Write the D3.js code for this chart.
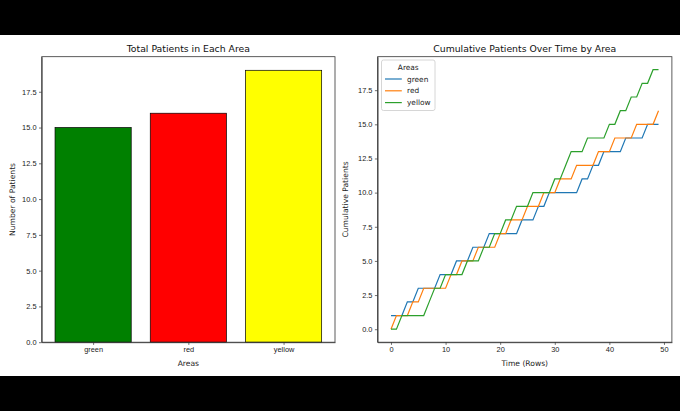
<!DOCTYPE html>
<html>
<head>
<meta charset="utf-8">
<script src="https://cdn.jsdelivr.net/npm/d3@7"></script>
<style>
  body { margin: 0; background: #000; }
  svg { display: block; font-family: "DejaVu Sans", sans-serif; }
  .tick text { font-size: 7.4px; fill: #222; }
  .tick line { stroke: #333; stroke-width: 0.7; }
  .domain { stroke: #333; stroke-width: 0.8; }
</style>
</head>
<body>
<div id="chart"></div>
<script>
const width = 680
const height = 411

// Datos
const areas = ["green", "red", "yellow"]
const totals = [15, 16, 19]
const barColors = ["#008000", "#ff0000", "#ffff00"]
const lineColors = ["#1f77b4", "#ff7f0e", "#2ca02c"]
const yTicks = [0, 2.5, 5, 7.5, 10, 12.5, 15, 17.5]
const xTicks = [0, 10, 20, 30, 40, 50]
// area of each row (0..49)
const rowAreas = [
  "green", "red", "yellow", "green", "red", "green", "red", "yellow", "yellow", "green",
  "yellow", "red", "green", "red", "yellow", "green", "red", "yellow", "green", "yellow",
  "red", "yellow", "red", "yellow", "green", "red", "yellow", "green", "red", "green",
  "yellow", "red", "yellow", "yellow", "red", "green", "yellow", "green", "red", "green",
  "yellow", "red", "yellow", "green", "yellow", "red", "yellow", "green", "yellow", "red"
]

const svg = d3.select("#chart")
  .append("svg")
  .attr("width", width)
  .attr("height", height)

// franjas negras arriba y abajo, fondo blanco en medio
svg.append("rect").attr("x", 0).attr("y", 35).attr("width", width).attr("height", 341).attr("fill", "#fff")

const plotTop = 56.7, plotBottom = 342.2

// ---------- Grafico de barras ----------
const b = { left: 41.7, right: 335 }
const xb = d3.scaleLinear().domain([-0.54, 2.54]).range([b.left, b.right])
const yb = d3.scaleLinear().domain([0, 19.95]).range([plotBottom, plotTop])

const barGroup = svg.append("g")
barGroup.selectAll("rect")
  .data(totals)
  .enter().append("rect")
    .attr("x", (d, i) => xb(i - 0.4))
    .attr("width", xb(0.8) - xb(0))
    .attr("y", d => yb(d))
    .attr("height", d => yb(0) - yb(d))
    .attr("fill", (d, i) => barColors[i])
    .attr("stroke", "#000")
    .attr("stroke-width", 0.7)

svg.append("g")
  .attr("transform", `translate(${b.left},0)`)
  .call(d3.axisLeft(yb).tickValues(yTicks).tickFormat(d3.format(".1f")).tickSize(2.7).tickSizeOuter(0).tickPadding(2.5))
svg.append("g")
  .attr("transform", `translate(0,${plotBottom})`)
  .call(d3.axisBottom(xb).tickValues([0, 1, 2]).tickFormat((d, i) => areas[i]).tickSize(2.7).tickSizeOuter(0).tickPadding(2))
// marco
svg.append("rect").attr("x", b.left).attr("y", plotTop).attr("width", b.right - b.left).attr("height", plotBottom - plotTop)
  .attr("fill", "none").attr("stroke", "#333").attr("stroke-width", 0.8)

svg.append("text").attr("x", (b.left + b.right) / 2).attr("y", 51.5)
  .attr("text-anchor", "middle").attr("font-size", 9.3).attr("fill", "#111").text("Total Patients in Each Area")
svg.append("text").attr("x", (b.left + b.right) / 2).attr("y", 365.5)
  .attr("text-anchor", "middle").attr("font-size", 7.6).attr("fill", "#222").text("Areas")
svg.append("text").attr("transform", `translate(14.5,${(plotTop + plotBottom) / 2}) rotate(-90)`)
  .attr("text-anchor", "middle").attr("font-size", 7.6).attr("fill", "#222").text("Number of Patients")

// ---------- Lineas acumuladas ----------
const l = { left: 377.6, right: 671.9 }
const xl = d3.scaleLinear().domain([-2.45, 51.45]).range([l.left, l.right])
const yl = d3.scaleLinear().domain([-0.95, 19.95]).range([plotBottom, plotTop])

const series = areas.map(a => {
  let c = 0
  return rowAreas.map((r, i) => ({ t: i, v: (c += r === a ? 1 : 0) }))
})

const line = d3.line().x(d => xl(d.t)).y(d => yl(d.v))
svg.append("g").selectAll("path")
  .data(series)
  .enter().append("path")
    .attr("fill", "none")
    .attr("stroke", (d, i) => lineColors[i])
    .attr("stroke-width", 1.2)
    .attr("d", line)

svg.append("g")
  .attr("transform", `translate(${l.left},0)`)
  .call(d3.axisLeft(yl).tickValues(yTicks).tickFormat(d3.format(".1f")).tickSize(2.7).tickSizeOuter(0).tickPadding(2.5))
svg.append("g")
  .attr("transform", `translate(0,${plotBottom})`)
  .call(d3.axisBottom(xl).tickValues(xTicks).tickSize(2.7).tickSizeOuter(0).tickPadding(2))
svg.append("rect").attr("x", l.left).attr("y", plotTop).attr("width", l.right - l.left).attr("height", plotBottom - plotTop)
  .attr("fill", "none").attr("stroke", "#333").attr("stroke-width", 0.8)

svg.append("text").attr("x", (l.left + l.right) / 2).attr("y", 51.5)
  .attr("text-anchor", "middle").attr("font-size", 9.3).attr("fill", "#111").text("Cumulative Patients Over Time by Area")
svg.append("text").attr("x", (l.left + l.right) / 2).attr("y", 365.5)
  .attr("text-anchor", "middle").attr("font-size", 7.6).attr("fill", "#222").text("Time (Rows)")
svg.append("text").attr("transform", `translate(348,${(plotTop + plotBottom) / 2}) rotate(-90)`)
  .attr("text-anchor", "middle").attr("font-size", 7.6).attr("fill", "#222").text("Cumulative Patients")

// Leyenda
const legend = svg.append("g").attr("transform", `translate(381.5,60)`)
legend.append("rect").attr("width", 53.5).attr("height", 50.5).attr("rx", 2)
  .attr("fill", "#fff").attr("fill-opacity", 0.8).attr("stroke", "#ccc").attr("stroke-width", 0.8)
legend.append("text").attr("x", 26.8).attr("y", 9.8).attr("text-anchor", "middle")
  .attr("font-size", 7.4).attr("fill", "#222").text("Areas")
const items = legend.selectAll(".item")
  .data(areas)
  .enter().append("g")
    .attr("class", "item")
    .attr("transform", (d, i) => `translate(0,${19 + i * 11.8})`)
items.append("line").attr("x1", 3.5).attr("x2", 20.3)
  .attr("stroke", (d, i) => lineColors[i]).attr("stroke-width", 1.2)
items.append("text").attr("x", 25.5).attr("y", 2.6)
  .attr("font-size", 7.4).attr("fill", "#222").text(d => d)
</script>
</body>
</html>
